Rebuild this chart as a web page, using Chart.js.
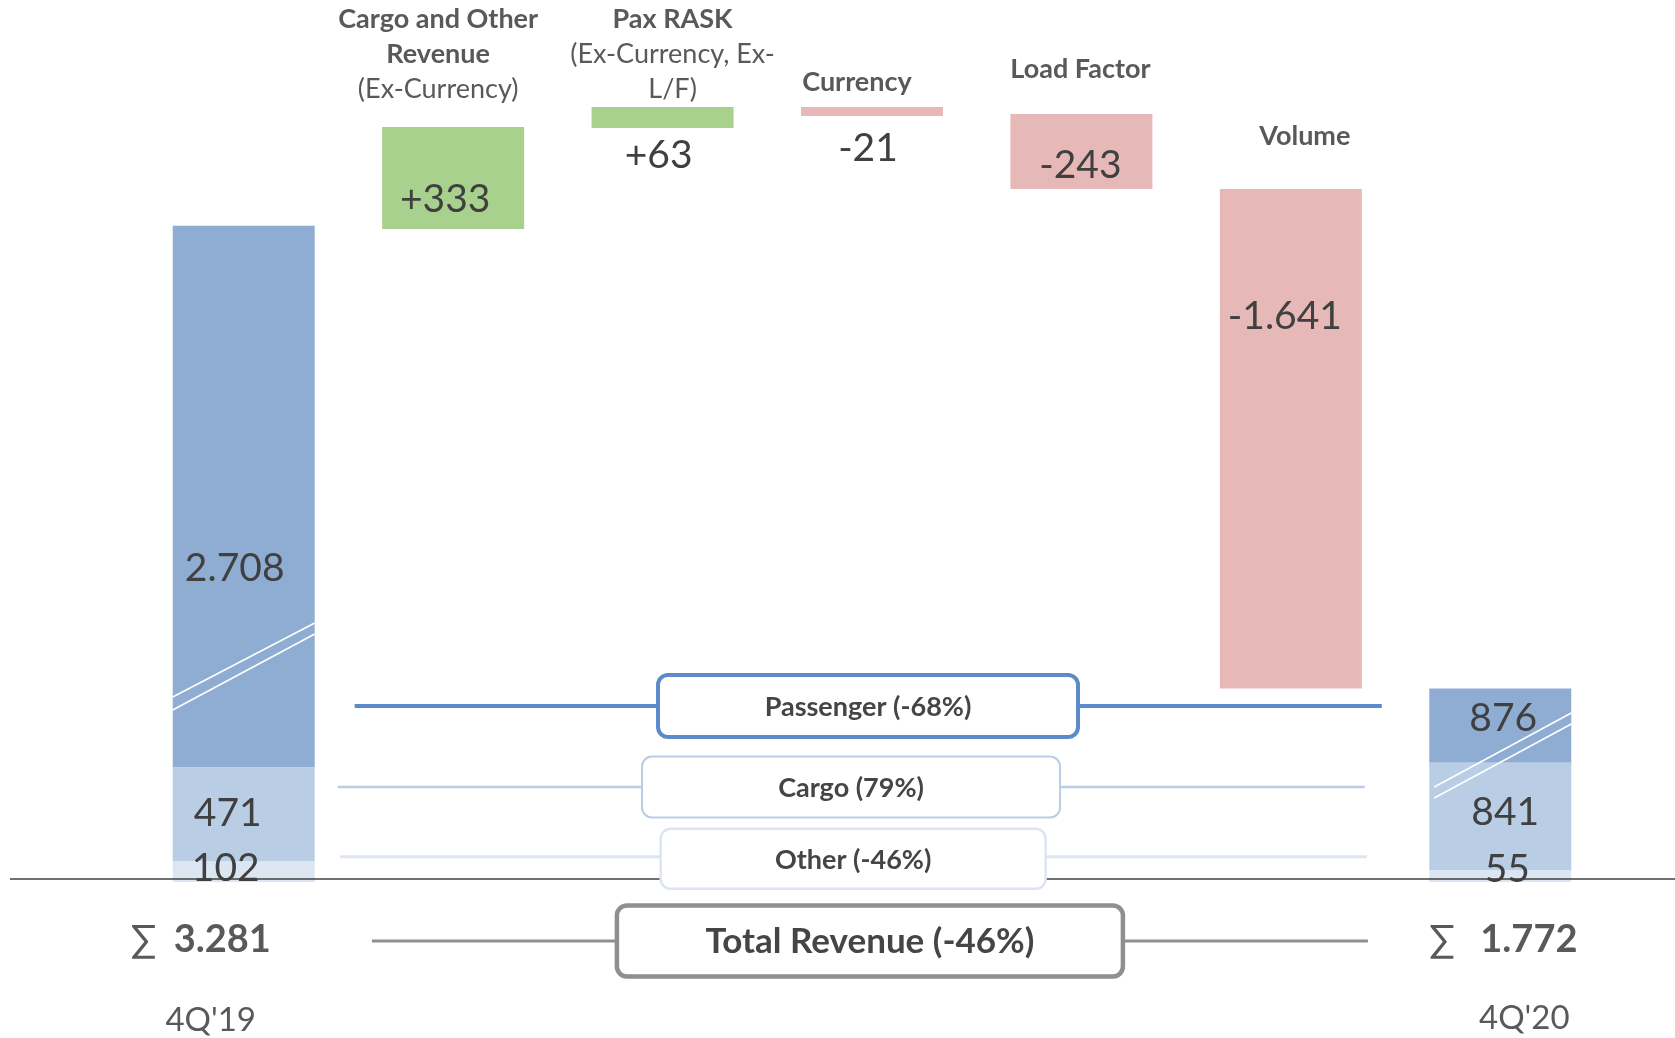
<!DOCTYPE html>
<html>
<head>
<meta charset="utf-8">
<title>Revenue bridge 4Q'19 - 4Q'20</title>
<script src="https://cdn.jsdelivr.net/npm/chart.js@4.4.0/dist/chart.umd.min.js"></script>
<style>
  html, body { margin:0; padding:0; background:#fff; }
  #wrap { width:1675px; height:1038px; position:relative; }
</style>
</head>
<body>
<div id="wrap"><canvas id="bridgeChart"></canvas></div>
<script>
// ---------- DATA ----------
const STEPS = ["4Q'19", "Cargo and Other Revenue", "Pax RASK", "Currency", "Load Factor", "Volume", "4Q'20"];

// reported figures
const LEFT  = { other:102, cargo:471, passenger:2708 };   // 4Q'19
const RIGHT = { other:55,  cargo:841, passenger:876 };    // 4Q'20
const DELTAS = [333, 63, -21, -243, -1641];

// original uses a broken axis -> bar extents,
// in the same units as the 4Q'19 column (that one is to scale)
const DRAWN = {
  right: { other:[0,60], cargo:[60,596], passenger:[596,968] },
  steps: [[3265,3775],[3770,3875],[3830,3875],[3465,3840],[968,3465]]
};

const COLORS = { other:'#dce6f2', cargo:'#b9cde5', passenger:'#8fadd3', up:'#a9d18e', down:'#e6b8b7' };
const FONT = 'Lato, "DejaVu Sans", sans-serif';

// ---------- HELPERS ----------
const sum = o => o.other + o.cargo + o.passenger;
function fmt(v, sign){
  const s = String(Math.abs(v)).replace(/\B(?=(\d{3})+(?!\d))/g, ".");
  if (v < 0) return "-" + s;
  return sign ? "+" + s : s;
}
const pct = (a,b) => { const p = Math.round((b/a-1)*100); return "(" + p + "%)"; };
const blank = () => STEPS.map(()=>null);
function column(first, last){ const d = blank(); d[0] = first; d[6] = last; return d; }

// ---------- SERIES ----------
const otherData = column([0, LEFT.other], DRAWN.right.other);
const cargoData = column([LEFT.other, LEFT.other+LEFT.cargo], DRAWN.right.cargo);
const paxData   = column([LEFT.other+LEFT.cargo, sum(LEFT)], DRAWN.right.passenger);
const upData = blank(), downData = blank();
DELTAS.forEach((d,i)=>{ (d > 0 ? upData : downData)[i+1] = DRAWN.steps[i]; });

// labels (at = position on y scale, dx = px shift from bar centre)
const VALUE_LABELS = [
  { i:0, text:fmt(LEFT.passenger), at:1570, dx:-9 },
  { i:0, text:fmt(LEFT.cargo), at:345, dx:-16 },
  { i:0, text:fmt(LEFT.other), at:68, dx:-18 },
  { i:1, text:fmt(DELTAS[0],true), at:3411, dx:-8 },
  { i:2, text:fmt(DELTAS[1],true), at:3635, dx:-4 },
  { i:3, text:fmt(DELTAS[2],true), at:3668, dx:-4 },
  { i:4, text:fmt(DELTAS[3],true), at:3582, dx:-1 },
  { i:5, text:fmt(DELTAS[4],true), at:2830, dx:-6 },
  { i:6, text:fmt(RIGHT.passenger), at:820, dx:3 },
  { i:6, text:fmt(RIGHT.cargo), at:350, dx:5 },
  { i:6, text:fmt(RIGHT.other), at:62, dx:7 }
];

const HEADINGS = [
  { i:1, top:4315, dx:-15, lines:[["Cargo and Other",1],["Revenue",1],["(Ex-Currency)",0]] },
  { i:2, top:4315, dx:10,  lines:[["Pax RASK",1],["(Ex-Currency, Ex-",0],["L/F)",0]] },
  { i:3, top:4000, dx:-15, lines:[["Currency",1]] },
  { i:4, top:4063, dx:-1,  lines:[["Load Factor",1]] },
  { i:5, top:3727, dx:14,  lines:[["Volume",1]] }
];

const LINKS = [
  { text:"Passenger " + pct(LEFT.passenger, RIGHT.passenger), at:880, from:0.53, to:5.434, bx:2.981, bw:420, bh:62, dy:0,
    color:'#5b8bc8', lw:4, blw:4, size:27 },
  { text:"Cargo " + pct(LEFT.cargo, RIGHT.cargo), at:475, from:0.449, to:5.353, bx:2.90, bw:418, bh:61, dy:0,
    color:'#b9cde5', lw:2.5, blw:2, size:27 },
  { text:"Other " + pct(LEFT.other, RIGHT.other), at:126, from:0.459, to:5.363, bx:2.91, bw:385, bh:60, dy:2,
    color:'#dce6f2', lw:3, blw:2.5, size:27 },
  { text:"Total Revenue " + pct(sum(LEFT), sum(RIGHT)), at:-295, from:0.612, to:5.368, bx:2.99, bw:506, bh:71, dy:0,
    color:'#8f8f8f', lw:3, blw:4.5, size:35 }
];

const TOTALS = [
  { i:0, value:sum(LEFT),  sigmaDx:-100, numDx:-70, period:STEPS[0], periodDx:-33, periodAt:-690 },
  { i:6, value:sum(RIGHT), sigmaDx:-58,  numDx:-20, period:STEPS[6], periodDx:24,  periodAt:-680 }
];

const BREAKS = [
  { i:0, inset:0, lines:[[925,1295],[860,1240]] },
  { i:6, inset:5, lines:[[475,845],[420,790]] }
];

// ---------- DECORATION PLUGIN ----------
const bridgeDecor = {
  id:'bridgeDecor',
  afterDatasetsDraw(chart){
    const {ctx, scales:{x, y}} = chart;
    const X = (i, dx=0) => x.getPixelForValue(i) + dx;
    const Y = v => y.getPixelForValue(v);
    ctx.save();

    // break marks on the total columns
    const paxMeta = chart.getDatasetMeta(2);
    ctx.strokeStyle = '#ffffff'; ctx.lineWidth = 1.6;
    BREAKS.forEach(b=>{
      const bar = paxMeta.data[b.i];
      const l = bar.x - bar.width/2 + b.inset, r = bar.x + bar.width/2;
      b.lines.forEach(([a,c])=>{ ctx.beginPath(); ctx.moveTo(l, Y(a)); ctx.lineTo(r, Y(c)); ctx.stroke(); });
    });

    // base line
    ctx.strokeStyle = '#404040'; ctx.lineWidth = 1.3;
    ctx.beginPath(); ctx.moveTo(10, Y(15)); ctx.lineTo(chart.width, Y(15)); ctx.stroke();

    // value labels
    ctx.textAlign = 'center'; ctx.textBaseline = 'middle';
    ctx.fillStyle = '#404040'; ctx.font = '39px ' + FONT;
    VALUE_LABELS.forEach(l=> ctx.fillText(l.text, X(l.i, l.dx), Y(l.at)));

    // headings
    ctx.fillStyle = '#595959';
    HEADINGS.forEach(h=>{
      h.lines.forEach(([t,b],k)=>{
        ctx.font = (b ? 'bold ' : '') + '27px ' + FONT;
        ctx.fillText(t, X(h.i, h.dx), Y(h.top) + k*35);
      });
    });

    // segment change boxes
    LINKS.forEach(s=>{
      const yy = Y(s.at);
      ctx.strokeStyle = s.color; ctx.lineWidth = s.lw;
      ctx.beginPath(); ctx.moveTo(X(s.from), yy); ctx.lineTo(X(s.to), yy); ctx.stroke();
      const cx = X(s.bx), cy = yy + s.dy;
      ctx.beginPath();
      ctx.roundRect(cx - s.bw/2, cy - s.bh/2, s.bw, s.bh, 10);
      ctx.fillStyle = '#ffffff'; ctx.fill();
      ctx.lineWidth = s.blw; ctx.stroke();
      ctx.fillStyle = '#454545'; ctx.font = 'bold ' + s.size + 'px ' + FONT;
      ctx.fillText(s.text, cx, cy + 1);
    });

    // sums and periods
    ctx.fillStyle = '#595959';
    TOTALS.forEach(t=>{
      const yy = Y(-290);
      ctx.textAlign = 'center'; ctx.font = '38px ' + FONT;
      ctx.fillText('\u2211', X(t.i, t.sigmaDx), yy);
      ctx.textAlign = 'left'; ctx.font = 'bold 38px ' + FONT;
      ctx.fillText(fmt(t.value), X(t.i, t.numDx), yy);
      ctx.textAlign = 'center'; ctx.font = '33px ' + FONT;
      ctx.fillText(t.period, X(t.i, t.periodDx), Y(t.periodAt));
    });
    ctx.restore();
  }
};

// ---------- CHART ----------
const barOpts = { grouped:false, borderWidth:0, barPercentage:0.678, categoryPercentage:1 };
new Chart(document.getElementById("bridgeChart"), {
  type:"bar",
  data:{
    labels:STEPS,
    datasets:[
      { label:"Other", data:otherData, backgroundColor:COLORS.other, ...barOpts },
      { label:"Cargo", data:cargoData, backgroundColor:COLORS.cargo, ...barOpts },
      { label:"Passenger", data:paxData, backgroundColor:COLORS.passenger, ...barOpts },
      { label:"Increase", data:upData, backgroundColor:COLORS.up, ...barOpts },
      { label:"Decrease", data:downData, backgroundColor:COLORS.down, ...barOpts }
    ]
  },
  options:{
    responsive:true, maintainAspectRatio:false, animation:false,
    layout:{ padding:{ left:139, right:70, top:0, bottom:0 } },
    plugins:{ legend:{ display:false }, tooltip:{ enabled:false } },
    scales:{
      x:{ display:false, grid:{ display:false } },
      y:{ display:false, min:-780, max:4410, grid:{ display:false } }
    }
  },
  plugins:[bridgeDecor]
});
</script>
</body>
</html>
